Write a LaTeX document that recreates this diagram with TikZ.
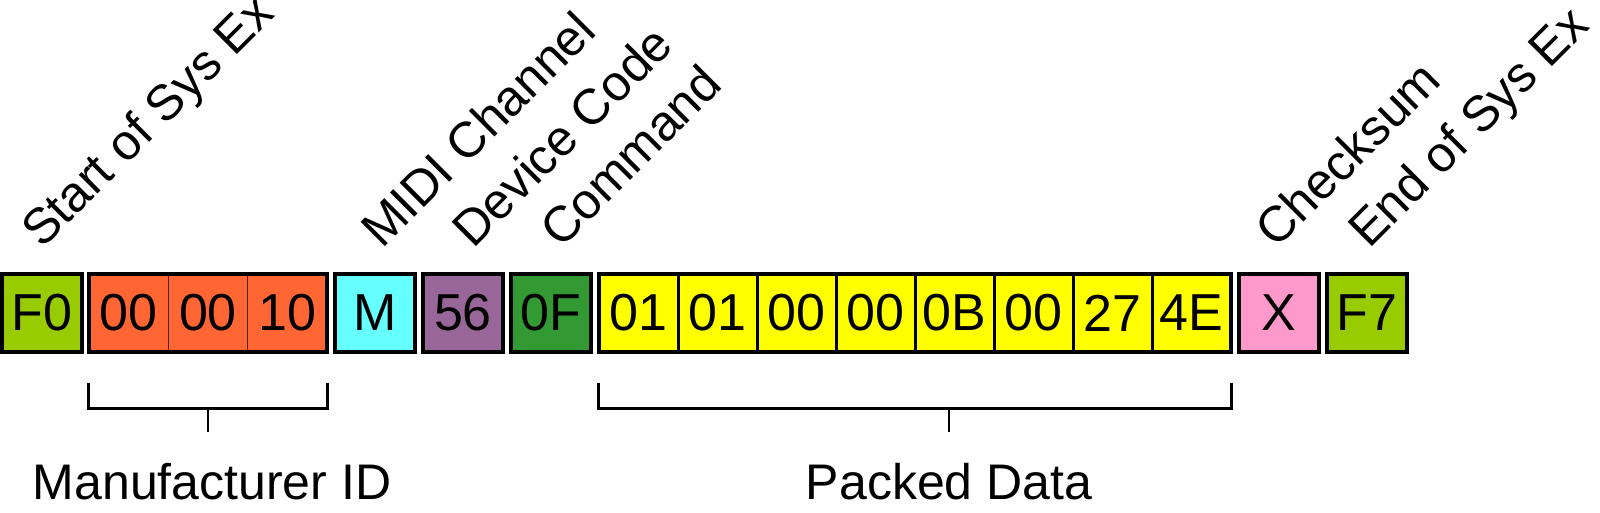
\documentclass[tikz,border=0pt]{standalone}
\usepackage{fontspec}
\setmainfont{Liberation Sans}
\usetikzlibrary{calc}
\definecolor{limeg}{HTML}{99CC00}
\definecolor{orng}{HTML}{FF6633}
\definecolor{cyn}{HTML}{66FFFF}
\definecolor{purp}{HTML}{996699}
\definecolor{dgrn}{HTML}{339933}
\definecolor{yel}{HTML}{FFFF00}
\definecolor{pnk}{HTML}{FF99CC}
\begin{document}
\begin{tikzpicture}[x=1pt,y=-1pt,
  txt/.style={font=\fontsize{52}{54}\selectfont},
  single/.style={txt, draw=black, line width=4pt, minimum width=80pt, minimum height=78pt, inner sep=0pt},
  cell/.style={txt, minimum height=78pt, inner sep=0pt},
  ocell/.style={cell, fill=orng, minimum width=79.33pt},
  ycell/.style={cell, fill=yel, minimum width=79pt},
  grp/.style={draw=black, line width=4pt},
  odiv/.style={draw=black!70!orng, line width=0.8pt},
  ydiv/.style={draw=black, line width=3pt},
  rot/.style={font=\fontsize{50}{52}\selectfont, rotate=45, anchor=base west, inner sep=0pt},
  brk/.style={line width=3pt},
  lbl/.style={font=\fontsize{50}{52}\selectfont, anchor=base, inner sep=0pt}]
\useasboundingbox (0,0) rectangle (1600,513);

% single boxes
\node[single, fill=limeg] (f0) at (42,313) {F0};
\node[single, fill=cyn]   (m)  at (375,313) {M};
\node[single, fill=purp]  (d56) at (463,313) {56};
\node[single, fill=dgrn]  (c0f) at (551,313) {0F};
\node[single, fill=pnk]   (x)  at (1279,313) {X};
\node[single, fill=limeg] (f7) at (1367,313) {F7};

% manufacturer cells
\node[ocell] (o1) at (128.67,313) {00};
\node[ocell] (o2) at (208,313) {00};
\node[ocell] (o3) at (287.33,313) {10};
\draw[odiv] (o1.north east) -- (o1.south east);
\draw[odiv] (o2.north east) -- (o2.south east);
\draw[grp] (o1.north west) rectangle (o3.south east);

% packed data cells
\node[ycell] (y1) at (638.5,313) {01};
\node[ycell] (y2) at (717.5,313) {01};
\node[ycell] (y3) at (796.5,313) {00};
\node[ycell] (y4) at (875.5,313) {00};
\node[ycell] (y5) at (954.5,313) {0B};
\node[ycell] (y6) at (1033.5,313) {00};
\node[ycell] (y7) at (1112.5,313) {27};
\node[ycell] (y8) at (1191.5,313) {4E};
\foreach \i in {y1,y2,y3,y4,y5,y6,y7}{\draw[ydiv] (\i.north east) -- (\i.south east);}
\draw[grp] (y1.north west) rectangle (y8.south east);

% rotated labels
\node[rot] (lstart) at (42,250) {Start of Sys Ex};
\node[rot] (lmidi)  at (382,250) {MIDI Channel};
\node[rot] (ldev)   at (473,250) {Device Code};
\node[rot] (lcmd)   at (561,250) {Command};
\node[rot] (lchk)   at (1276,250) {Checksum};
\node[rot] (lend)   at (1369,250) {End of Sys Ex};

% brackets
\coordinate (mA) at ($(o1.south west)+(0,31)$);
\coordinate (mB) at ($(o3.south east)+(0,31)$);
\coordinate (mC) at (208,408);
\draw[brk] (mA) -- ++(0,25) -- ($(mB)+(0,25)$) -- (mB);
\draw[line width=2.5pt] (mC) -- (208,432);
\node[lbl] (lman) at (212,499) {Manufacturer ID};

\coordinate (pA) at ($(y1.south west)+(0,31)$);
\coordinate (pB) at ($(y8.south east)+(0,31)$);
\coordinate (pC) at (949,408);
\draw[brk] (pA) -- ++(0,25) -- ($(pB)+(0,25)$) -- (pB);
\draw[line width=2.5pt] (pC) -- (949,432);
\node[lbl] (lpack) at (949,499) {Packed Data};
\end{tikzpicture}
\end{document}
